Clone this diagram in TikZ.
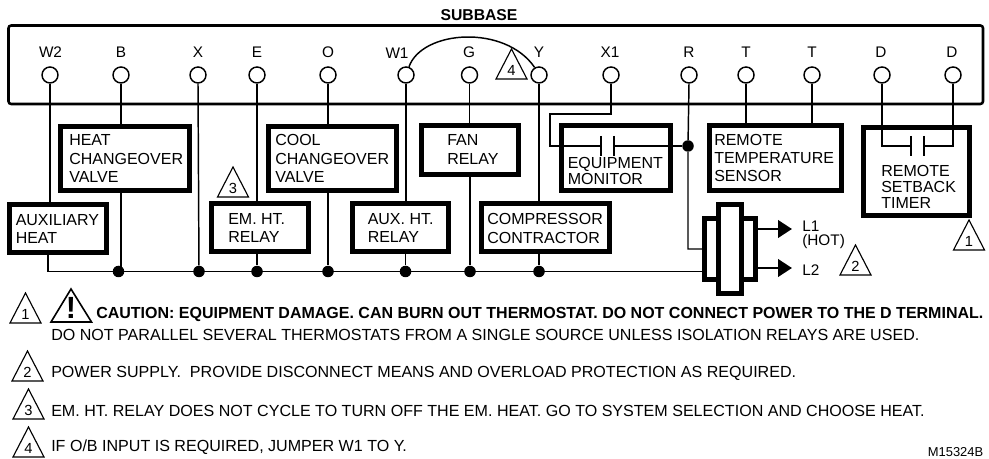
\documentclass[tikz,border=0pt]{standalone}
\usepackage{fontspec}
\setmainfont{Liberation Sans}
\usetikzlibrary{positioning}
\usetikzlibrary{arrows.meta}
\usetikzlibrary{calc}

\def\u{0.75pt}
\tikzset{
  wire/.style={line width=1.1pt},
  term/.style={circle, draw, fill=white, line width=1.1pt, minimum size=16*\u, inner sep=0pt},
  termlabel/.style={inner sep=0pt, font=\fontsize{11.5}{13}\selectfont},
  relaybox/.style={draw, fill=white, line width=3.4pt, inner sep=0pt},
  boxtext/.style={anchor=west, align=left, inner sep=0pt, font=\fontsize{12}{13.6}\selectfont},
  tightboxtext/.style={boxtext, font=\fontsize{12}{12}\selectfont},
  busdot/.style={circle, fill=black, minimum size=11.5*\u, inner sep=0pt},
  notetext/.style={anchor=west, inner sep=0pt, font=\fontsize{12.05}{14}\selectfont},
  trinum/.style={inner sep=0pt, font=\fontsize{11}{13}\selectfont},
  tritext/.style={line width=0.85pt, line join=miter},
  powerline/.style={line width=2.2pt, -{Triangle[length=10.5pt,width=13pt]}}
}
\newcommand{\relay}[5]{\node[relaybox, minimum width={(#4-#2-4.5)*\u}, minimum height={(#5-#3-4.5)*\u}] (#1) at ({(#2+#4)/2},{(#3+#5)/2}) {};}
\newcommand{\notetri}[4]{\draw[tritext] (#2-15.5,#3) -- (#2,#3-30) -- (#2+15.5,#3) -- cycle; \node[trinum] (#1) at (#2,#3-9) {#4};}
\newcommand{\contact}[4]{\coordinate (#1L) at (#2,#4); \coordinate (#1R) at (#3,#4); \draw[wire, line width=1.3pt] ($(#1L)+(0,-10)$) -- ($(#1L)+(0,10)$); \draw[wire, line width=1.3pt] ($(#1R)+(0,-10)$) -- ($(#1R)+(0,10)$);}

\begin{document}
\begin{tikzpicture}[x=0.75pt, y=-0.75pt]
\useasboundingbox (0,0) rectangle (989,459);

\node[inner sep=0pt, font=\fontsize{11.8}{13}\selectfont\bfseries] (subbasetitle) at (479,15) {SUBBASE};
\draw[line width=1.9pt, rounded corners=2pt] (8.5,25.5) rectangle (983,104);

\relay{heat}{58}{124}{192}{193}
\relay{aux}{7}{202}{109}{255}
\relay{em}{209}{201}{311}{254}
\relay{cool}{266}{124}{399}{193}
\relay{auxht}{350}{201}{451}{254}
\relay{fan}{419}{123}{521}{177}
\relay{comp}{479}{201}{612}{254}
\relay{equip}{559}{123}{673}{193}
\relay{sensor}{707}{123}{844}{193}
\relay{timer}{861}{125}{972}{218}
\relay{xfmrA}{702}{216}{758}{282}
\relay{xfmrB}{716}{202}{744}{296}

\node[boxtext] (heattext) at (69,158.5) {HEAT\\CHANGEOVER\\VALVE};
\node[boxtext] (auxtext) at (15.5,229) {AUXILIARY\\HEAT};
\node[boxtext] (emtext) at (228,228) {EM. HT.\\RELAY};
\node[boxtext] (cooltext) at (275,158.5) {COOL\\CHANGEOVER\\VALVE};
\node[boxtext] (auxhttext) at (367.5,228) {AUX. HT.\\RELAY};
\node[boxtext] (fantext) at (447,149.5) {FAN\\RELAY};
\node[boxtext] (comptext) at (487,228.5) {COMPRESSOR\\CONTRACTOR};
\node[tightboxtext] (equiptext) at (567.5,171) {EQUIPMENT\\MONITOR};
\node[boxtext] (sensortext) at (714,158) {REMOTE\\TEMPERATURE\\SENSOR};
\node[tightboxtext] (timertext) at (881,187) {REMOTE\\SETBACK\\TIMER};

\node[term] (tW2) at (50,75) {};
\node[term] (tB) at (121,75) {};
\node[term] (tX) at (198,75) {};
\node[term] (tE) at (257,75) {};
\node[term] (tO) at (328,75) {};
\node[term] (tW1) at (406,75) {};
\node[term] (tG) at (469.5,75) {};
\node[term] (tY) at (539,75) {};
\node[term] (tX1) at (611,75) {};
\node[term] (tR) at (689,75) {};
\node[term] (tTa) at (746,75) {};
\node[term] (tTb) at (812,75) {};
\node[term] (tDa) at (882,75) {};
\node[term] (tDb) at (953,75) {};

\node[termlabel] (lW2) at (50.5,52) {W2};
\node[termlabel] (lB) at (121,52) {B};
\node[termlabel] (lX) at (198,52) {X};
\node[termlabel] (lE) at (257,52) {E};
\node[termlabel] (lO) at (328,52) {O};
\node[termlabel] (lW1) at (397,53) {W1};
\node[termlabel] (lG) at (469,52) {G};
\node[termlabel] (lY) at (539,52) {Y};
\node[termlabel] (lX1) at (610,52) {X1};
\node[termlabel] (lR) at (689,52) {R};
\node[termlabel] (lTa) at (746,52) {T};
\node[termlabel] (lTb) at (812,52) {T};
\node[termlabel] (lDa) at (881,52) {D};
\node[termlabel] (lDb) at (952,52) {D};

\draw[wire] (tW1.70) .. controls (422,30) and (505,24) .. (tY.120);

\coordinate (busstart) at (48,271.5);
\node[busdot] (dB) at (118.5,271.5) {};
\node[busdot] (dX) at (199,271.5) {};
\node[busdot] (dE) at (257,271.5) {};
\node[busdot] (dO) at (328,271.5) {};
\node[busdot] (dW1) at (405.5,271.5) {};
\node[busdot] (dG) at (470,271.5) {};
\node[busdot] (dY) at (539,271.5) {};

\draw[wire] (tW2.south) -- (tW2 |- aux.north);
\draw[wire] (tB.south) -- (heat.north -| tB);
\draw[wire] (tX.south) -- (dX);
\draw[wire] (tE.south) -- (em.north -| tE);
\draw[wire] (tO.south) -- (cool.north -| tO);
\draw[wire] (tW1.south) -- (auxht.north -| tW1);
\draw[wire] (tG.south) -- (fan.north -| tG);
\draw[wire] (tY.south) -- (comp.north -| tY);
\draw[wire] (tTa.south) -- (sensor.north -| tTa);
\draw[wire] (tTb.south) -- (sensor.north -| tTb);

\draw[wire] (busstart |- aux.south) -- (busstart) -- (xfmrA.west |- busstart);
\draw[wire] (heat.south -| tB) -- (tB |- dB);
\draw[wire] (em.south -| dE) -- (dE);
\draw[wire] (cool.south -| dO) -- (dO);
\draw[wire] (auxht.south -| dW1) -- (dW1);
\draw[wire] (fan.south -| dG) -- (dG);
\draw[wire] (comp.south -| dY) -- (dY);

\contact{eq}{601}{614}{146}
\node[busdot] (dR) at (688,146) {};
\draw[wire] (tX1.south) -- (611,114) -- (550,114) -- (550,146) -- (eqL);
\draw[wire] (eqR) -- (dR);
\draw[wire] (tR.south) -- (dR) -- (dR |- xfmrA.west) -- (xfmrA.west);

\contact{st}{911}{924}{146}
\draw[wire] (tDa.south) -- (tDa |- stL) -- (stL);
\draw[wire] (tDb.south) -- (tDb |- stR) -- (stR);

\coordinate (lineA) at (792,229);
\coordinate (lineB) at (792,268);
\draw[powerline] (xfmrA.east |- lineA) -- (lineA);
\draw[powerline] (xfmrA.east |- lineB) -- (lineB);
\node[termlabel, anchor=west] (lLa) at (802,226) {L1};
\node[termlabel, anchor=west] (lHot) at (802,242) {(HOT)};
\node[termlabel, anchor=west] (lLb) at (802,270) {L2};

\notetri{markthree}{233}{197}{3}
\notetri{markfour}{511.5}{79}{4}
\notetri{markone}{969}{250}{1}
\notetri{marktwo}{855.5}{275}{2}
\notetri{noteone}{25.5}{323}{1}
\notetri{notetwo}{27.5}{381}{2}
\notetri{notethree}{28.5}{419}{3}
\notetri{notefour}{28.5}{457}{4}

\draw[line width=1.2pt, line join=miter] (51,322) -- (71,289) -- (91.5,322) -- cycle;
\node[inner sep=0pt, font=\fontsize{23}{23}\selectfont\bfseries] (bang) at (71,308) {!};

\node[notetext, font=\fontsize{12}{14}\selectfont\bfseries] (caution) at (96,314) {CAUTION: EQUIPMENT DAMAGE. CAN BURN OUT THERMOSTAT. DO NOT CONNECT POWER TO THE D TERMINAL.};
\node[notetext] (parallel) at (51,335) {DO NOT PARALLEL SEVERAL THERMOSTATS FROM A SINGLE SOURCE UNLESS ISOLATION RELAYS ARE USED.};
\node[notetext] (supply) at (51,373) {POWER SUPPLY.\ \ PROVIDE DISCONNECT MEANS AND OVERLOAD PROTECTION AS REQUIRED.};
\node[notetext] (cycle) at (51,411) {EM. HT. RELAY DOES NOT CYCLE TO TURN OFF THE EM. HEAT. GO TO SYSTEM SELECTION AND CHOOSE HEAT.};
\node[notetext] (jumper) at (51,447) {IF O/B INPUT IS REQUIRED, JUMPER W1 TO Y.};
\node[inner sep=0pt, anchor=east, font=\fontsize{9.7}{11}\selectfont] (partno) at (983.5,452) {M15324B};

\end{tikzpicture}
\end{document}
